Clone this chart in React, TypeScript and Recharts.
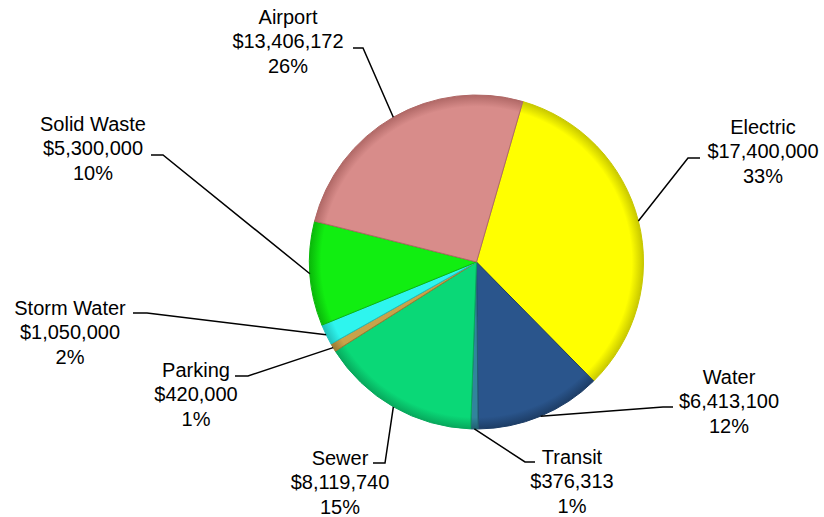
import { PieChart, Pie, Cell } from "recharts"

const names = ["Electric", "Water", "Transit", "Sewer", "Parking", "Storm Water", "Solid Waste", "Airport"]
const amounts = [17400000, 6413100, 376313, 8119740, 420000, 1050000, 5300000, 13406172]
const colors = ["#FFFF00", "#2A558C", "#31859C", "#0AD877", "#C9A24A", "#2EF5EE", "#11EE11", "#D88C8A"]
const rims = ["#C8C800", "#1D3D66", "#216070", "#07A85C", "#9A7A30", "#1FC0BA", "#0AB80A", "#B06866"]

// where each callout sits: text centre / first baseline, elbow of the leader, end of the short tick
const labelLayout = [
  { tx: 763, ty: 134, ex: 688, ey: 158, hx: 700 },
  { tx: 729, ty: 384, ex: 663, ey: 407, hx: 673 },
  { tx: 572, ty: 464, ex: 525, ey: 462, hx: 535 },
  { tx: 340, ty: 465, ex: 385, ey: 463, hx: 373 },
  { tx: 196, ty: 377, ex: 248, ey: 376, hx: 235 },
  { tx: 70, ty: 315, ex: 147, ey: 313, hx: 133 },
  { tx: 93, ty: 131, ex: 163, ey: 155, hx: 151 },
  { tx: 288, ty: 24, ex: 363, ey: 48, hx: 353 },
]

const data = names.map((name, i) => ({ name, value: amounts[i] }))

const CX = 476.5
const CY = 262
const R = 167
const START = 73.9
const RADIAN = Math.PI / 180

function renderLabel(props: any) {
  const { cx, cy, midAngle, outerRadius, index, value, percent, name } = props
  const sx = cx + outerRadius * Math.cos(-midAngle * RADIAN)
  const sy = cy + outerRadius * Math.sin(-midAngle * RADIAN)
  const l = labelLayout[index]
  return (
    <g>
      <polyline
        points={`${sx},${sy} ${l.ex},${l.ey} ${l.hx},${l.ey}`}
        fill="none"
        stroke="#000"
        strokeWidth={1.5}
      />
      <text
        x={l.tx}
        y={l.ty}
        textAnchor="middle"
        fontFamily="'Liberation Sans', Arial, sans-serif"
        fontSize={20}
        fill="#000"
      >
        <tspan x={l.tx} dy={0}>{name}</tspan>
        <tspan x={l.tx} dy={24.4}>{"$" + value.toLocaleString("en-US")}</tspan>
        <tspan x={l.tx} dy={24.4}>{Math.round(percent * 100) + "%"}</tspan>
      </text>
    </g>
  )
}

export default function App() {
  return (
    <div style={{ position: "absolute", left: 0, top: 0, width: 824, height: 517, background: "#fff" }}>
      <svg width={0} height={0} style={{ position: "absolute" }}>
        <defs>
          {colors.map((c, i) => (
            <radialGradient key={i} id={`slice${i}`} gradientUnits="userSpaceOnUse" cx={CX} cy={CY} r={R}>
              <stop offset="0%" stopColor={c} />
              <stop offset="93%" stopColor={c} />
              <stop offset="100%" stopColor={rims[i]} />
            </radialGradient>
          ))}
        </defs>
      </svg>
      <PieChart width={824} height={517} margin={{ top: 0, right: 0, bottom: 0, left: 0 }}>
        <Pie
          data={data}
          dataKey="value"
          nameKey="name"
          cx={CX}
          cy={CY}
          outerRadius={R}
          startAngle={START}
          endAngle={START - 360}
          label={renderLabel}
          labelLine={false}
          isAnimationActive={false}
        >
          {data.map((d, i) => (
            <Cell key={d.name} fill={`url(#slice${i})`} stroke={rims[i]} strokeWidth={1} />
          ))}
        </Pie>
      </PieChart>
    </div>
  )
}
